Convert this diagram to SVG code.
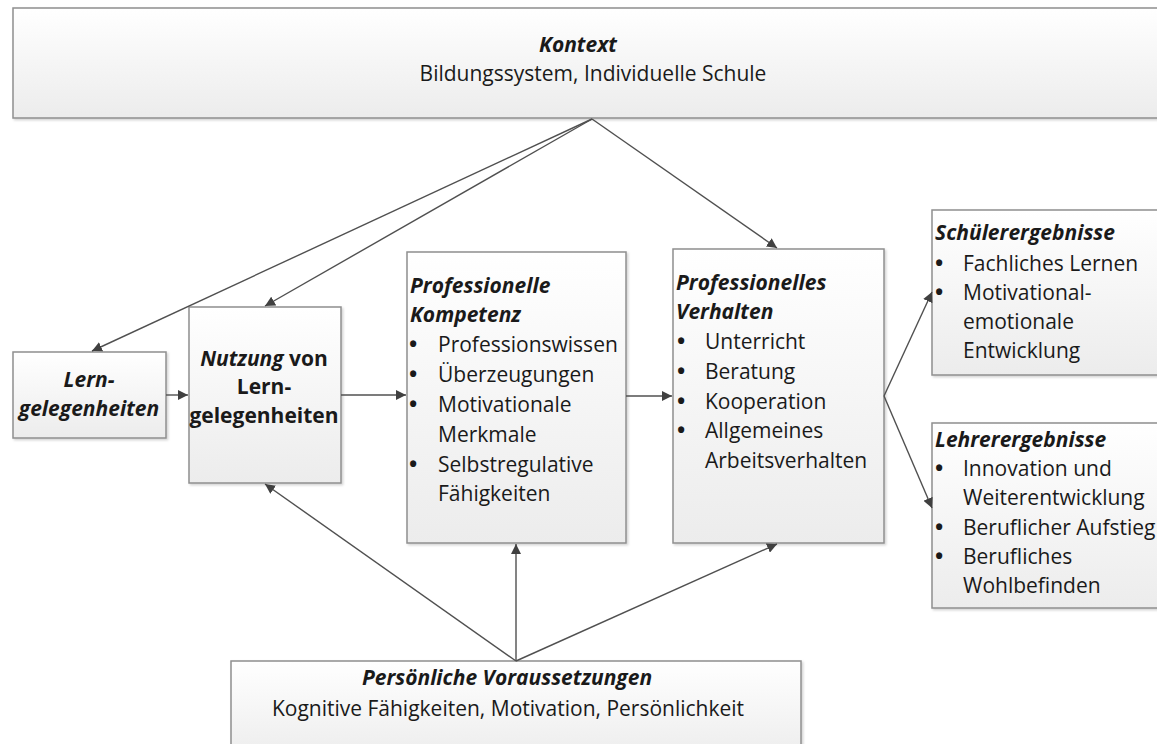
<svg xmlns="http://www.w3.org/2000/svg" width="1157" height="744" viewBox="0 0 1157 744">
<defs>
<linearGradient id="g" x1="0" y1="0" x2="0" y2="1">
<stop offset="0" stop-color="#ffffff"/>
<stop offset="1" stop-color="#ececec"/>
</linearGradient>
<marker id="ah" viewBox="0 0 10 10" refX="10" refY="5" markerWidth="10" markerHeight="10" markerUnits="userSpaceOnUse" orient="auto">
<path d="M0,0 L10,5 L0,10 z" fill="#404040"/>
</marker>
<filter id="sh" x="-5%" y="-5%" width="110%" height="110%">
<feDropShadow dx="1.5" dy="1.5" stdDeviation="1" flood-color="#000" flood-opacity="0.18"/>
</filter>
</defs>
<style>
.box{fill:url(#g);stroke:#8f8f8f;stroke-width:1.5;filter:url(#sh)}
text{font-family:"Open Sans","Liberation Sans",sans-serif;font-size:21px;fill:#1a1a1a}
.t{font-weight:bold;font-style:italic}
.b{font-weight:bold}
.c{text-anchor:middle}
.d{font-weight:bold;font-size:22px}
.con{stroke:#505050;stroke-width:1.4;fill:none;marker-end:url(#ah)}
</style>
<rect width="1157" height="744" fill="#ffffff"/>

<g id="kontext">
<rect class="box" x="13" y="8" width="1160" height="110"/>
<text class="t c" x="578" y="52">Kontext</text>
<text class="c" x="593" y="81">Bildungssystem, Individuelle Schule</text>
</g>

<g id="lerngelegenheiten">
<rect class="box" x="13" y="352" width="153" height="86"/>
<text class="t c" x="89" y="387">Lern-</text>
<text class="t c" x="89" y="416">gelegenheiten</text>
</g>

<g id="nutzung">
<rect class="box" x="189" y="307" width="152" height="176"/>
<text class="b c" x="264" y="366"><tspan font-style="italic">Nutzung</tspan> von</text>
<text class="b c" x="264" y="394">Lern-</text>
<text class="b c" x="264" y="423" font-size="20.5">gelegenheiten</text>
</g>

<g id="kompetenz">
<rect class="box" x="407" y="252" width="219" height="291"/>
<text class="t" x="410" y="293">Professionelle</text>
<text class="t" x="410" y="322">Kompetenz</text>
<text class="d" x="409" y="352">•</text><text x="438" y="352">Professionswissen</text>
<text class="d" x="409" y="382">•</text><text x="438" y="382">Überzeugungen</text>
<text class="d" x="409" y="412">•</text><text x="438" y="412">Motivationale</text>
<text x="438" y="442">Merkmale</text>
<text class="d" x="409" y="472">•</text><text x="438" y="472">Selbstregulative</text>
<text x="438" y="501">Fähigkeiten</text>
</g>

<g id="verhalten">
<rect class="box" x="673" y="249" width="211" height="294"/>
<text class="t" x="676" y="290">Professionelles</text>
<text class="t" x="676" y="319">Verhalten</text>
<text class="d" x="677" y="349">•</text><text x="705" y="349">Unterricht</text>
<text class="d" x="677" y="379">•</text><text x="705" y="379">Beratung</text>
<text class="d" x="677" y="409">•</text><text x="705" y="409">Kooperation</text>
<text class="d" x="677" y="438">•</text><text x="705" y="438">Allgemeines</text>
<text x="705" y="468">Arbeitsverhalten</text>
</g>

<g id="schueler">
<rect class="box" x="932" y="210" width="240" height="165"/>
<text class="t" x="935" y="240">Schülerergebnisse</text>
<text class="d" x="935" y="271">•</text><text x="963" y="271">Fachliches Lernen</text>
<text class="d" x="935" y="300">•</text><text x="963" y="300">Motivational-</text>
<text x="963" y="329">emotionale</text>
<text x="963" y="358">Entwicklung</text>
</g>

<g id="lehrer">
<rect class="box" x="932" y="423" width="240" height="185"/>
<text class="t" x="935" y="447">Lehrerergebnisse</text>
<text class="d" x="935" y="476">•</text><text x="963" y="476">Innovation und</text>
<text x="963" y="505">Weiterentwicklung</text>
<text class="d" x="935" y="535">•</text><text x="963" y="535">Beruflicher Aufstieg</text>
<text class="d" x="935" y="564">•</text><text x="963" y="564">Berufliches</text>
<text x="963" y="593">Wohlbefinden</text>
</g>

<g id="voraussetzungen">
<rect class="box" x="231" y="661" width="570" height="100"/>
<text class="t c" x="507" y="685">Persönliche Voraussetzungen</text>
<text class="c" x="508" y="716">Kognitive Fähigkeiten, Motivation, Persönlichkeit</text>
</g>

<g id="connectors">
<line class="con" x1="592" y1="119" x2="92" y2="351"/>
<line class="con" x1="592" y1="119" x2="265" y2="306"/>
<line class="con" x1="592" y1="119" x2="777" y2="248"/>
<line class="con" x1="166" y1="395" x2="188" y2="395"/>
<line class="con" x1="341" y1="395" x2="406" y2="395"/>
<line class="con" x1="626" y1="396" x2="672" y2="396"/>
<line class="con" x1="884" y1="396" x2="932" y2="292"/>
<line class="con" x1="884" y1="396" x2="932" y2="508"/>
<line class="con" x1="516" y1="661" x2="265" y2="484"/>
<line class="con" x1="516" y1="661" x2="516" y2="544"/>
<line class="con" x1="516" y1="661" x2="777" y2="544"/>
</g>
</svg>
